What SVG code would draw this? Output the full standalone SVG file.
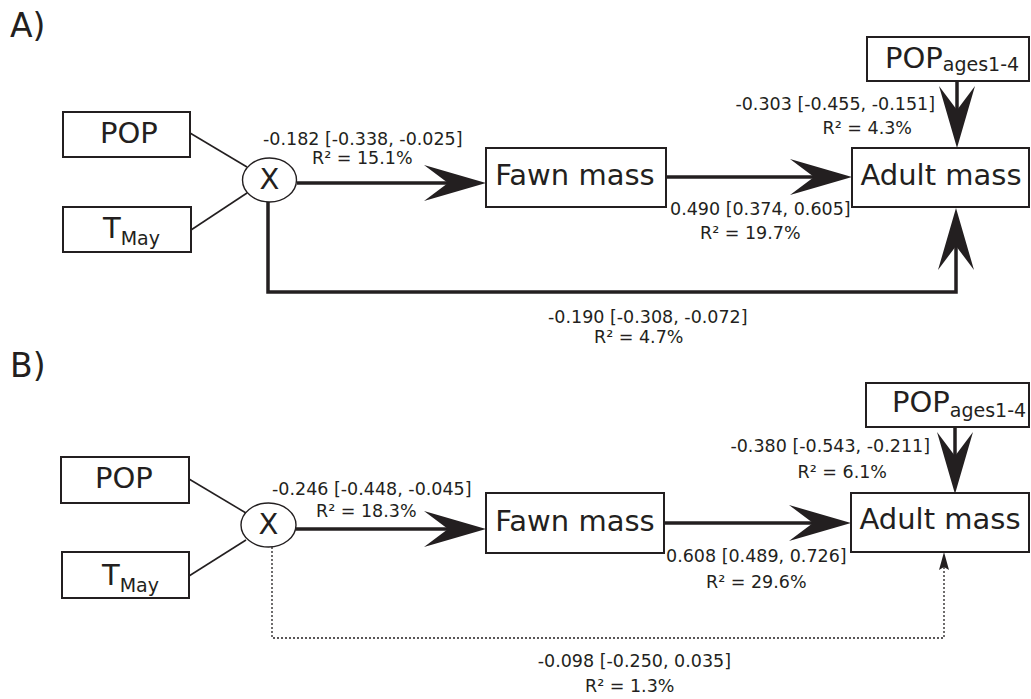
<svg xmlns="http://www.w3.org/2000/svg" width="1031" height="699" viewBox="0 0 1031 699">
<style>
text{font-family:"DejaVu Sans","Liberation Sans",sans-serif;fill:#231f20}
.panel{font-size:33px}
.big{font-size:29px}
.sub{font-size:19px}
.lab{font-size:17.5px}
.box{fill:#fff;stroke:#231f20;stroke-width:2}
.ell{fill:#fff;stroke:#231f20;stroke-width:1.4}
.thin{fill:none;stroke:#231f20;stroke-width:1.6}
.thick{fill:none;stroke:#231f20;stroke-width:3.5}
.dot{fill:none;stroke:#231f20;stroke-width:1.3;stroke-dasharray:2 2}
</style>
<defs>
<marker id="ah" viewBox="-26 -20 66 40" refX="0" refY="0" markerWidth="66" markerHeight="40" markerUnits="userSpaceOnUse" orient="auto">
<path d="M38,0 L-24,-18 L0,0 L-24,18 Z" fill="#231f20"/>
</marker>
<marker id="ahs" viewBox="-5 -7 22 14" refX="0" refY="0" markerWidth="22" markerHeight="14" markerUnits="userSpaceOnUse" orient="auto">
<path d="M15,0 L-3,-5 L0,0 L-3,5 Z" fill="#231f20"/>
</marker>
</defs>
<rect width="1031" height="699" fill="#fff"/>
<text class="panel" x="10" y="37">A)</text>
<text class="panel" x="10" y="377">B)</text>

<g id="connectors">
<line class="thin" x1="190" y1="133" x2="247" y2="167"/>
<line class="thin" x1="191" y1="230" x2="247" y2="193"/>
<line class="thick" x1="297" y1="183" x2="448" y2="183" marker-end="url(#ah)"/>
<line class="thick" x1="666" y1="177" x2="814" y2="177" marker-end="url(#ah)"/>
<line class="thick" x1="957" y1="81" x2="957" y2="110" marker-end="url(#ah)"/>
<path class="thick" d="M268,202 V292 H956 V246" marker-end="url(#ah)"/>
<line class="thin" x1="189" y1="479" x2="246" y2="513"/>
<line class="thin" x1="189" y1="576" x2="246" y2="540"/>
<line class="thick" x1="296" y1="529" x2="448" y2="529" marker-end="url(#ah)"/>
<line class="thick" x1="664" y1="523" x2="813" y2="523" marker-end="url(#ah)"/>
<line class="thick" x1="955" y1="427" x2="955" y2="456" marker-end="url(#ah)"/>
<path class="dot" d="M272,547 V638 H944 V567" marker-end="url(#ahs)"/>
<text class="lab" x="263" y="145">-0.182 [-0.338, -0.025]</text>
<text class="lab" x="312" y="164">R² = 15.1%</text>
<text class="lab" x="935" y="110" text-anchor="end">-0.303 [-0.455, -0.151]</text>
<text class="lab" x="912" y="134" text-anchor="end">R² = 4.3%</text>
<text class="lab" x="670" y="215">0.490 [0.374, 0.605]</text>
<text class="lab" x="700" y="239">R² = 19.7%</text>
<text class="lab" x="548" y="323">-0.190 [-0.308, -0.072]</text>
<text class="lab" x="594" y="343">R² = 4.7%</text>
<text class="lab" x="272" y="495">-0.246 [-0.448, -0.045]</text>
<text class="lab" x="316" y="517">R² = 18.3%</text>
<text class="lab" x="930" y="452" text-anchor="end">-0.380 [-0.543, -0.211]</text>
<text class="lab" x="887" y="478" text-anchor="end">R² = 6.1%</text>
<text class="lab" x="666" y="562">0.608 [0.489, 0.726]</text>
<text class="lab" x="706" y="588">R² = 29.6%</text>
<text class="lab" x="731" y="667" text-anchor="end">-0.098 [-0.250, 0.035]</text>
<text class="lab" x="585" y="692">R² = 1.3%</text>
</g>

<g id="A-pop"><rect class="box" x="63" y="112" width="127" height="45"/><text class="big" x="100" y="143">POP</text></g>
<g id="A-tmay"><rect class="box" x="63" y="207" width="128" height="45"/><text class="big" x="103" y="238">T<tspan class="sub" dy="7">May</tspan></text></g>
<g id="A-x"><ellipse class="ell" cx="269.5" cy="180" rx="27" ry="22"/><text class="big" x="269.5" y="189" text-anchor="middle">X</text></g>
<g id="A-fawn"><rect class="box" x="486" y="148" width="180" height="59"/><text class="big" x="575" y="185" text-anchor="middle">Fawn mass</text></g>
<g id="A-adult"><rect class="box" x="852" y="148" width="177" height="59"/><text class="big" x="941" y="185" text-anchor="middle">Adult mass</text></g>
<g id="A-popages"><rect class="box" x="867" y="37" width="162" height="44"/><text class="big" x="885" y="68">POP<tspan class="sub" dy="3">ages1-4</tspan></text></g>

<g id="B-pop"><rect class="box" x="61" y="457" width="128" height="46"/><text class="big" x="95" y="488">POP</text></g>
<g id="B-tmay"><rect class="box" x="62" y="552" width="127" height="46"/><text class="big" x="102" y="585">T<tspan class="sub" dy="7">May</tspan></text></g>
<g id="B-x"><ellipse class="ell" cx="268.5" cy="525" rx="27.5" ry="22"/><text class="big" x="268.5" y="534" text-anchor="middle">X</text></g>
<g id="B-fawn"><rect class="box" x="486" y="493" width="178" height="60"/><text class="big" x="575" y="531" text-anchor="middle">Fawn mass</text></g>
<g id="B-adult"><rect class="box" x="851" y="493" width="178" height="59"/><text class="big" x="940" y="529" text-anchor="middle">Adult mass</text></g>
<g id="B-popages"><rect class="box" x="866" y="383" width="163" height="44"/><text class="big" x="892" y="412">POP<tspan class="sub" dy="5">ages1-4</tspan></text></g>
</svg>
